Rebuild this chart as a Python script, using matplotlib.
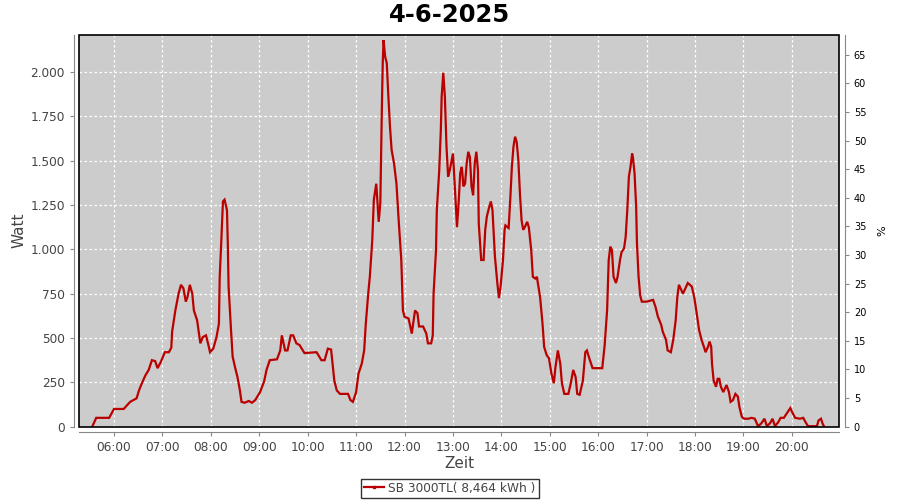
import pandas as pd
import matplotlib
matplotlib.use("Agg")
import matplotlib.pyplot as plt
import matplotlib.dates as mdates
from matplotlib.lines import Line2D
from matplotlib.patches import Rectangle
from matplotlib.ticker import FuncFormatter, MultipleLocator

# Data (time of day, power in W)
times = [
    "05:33", "05:38", "05:54", "06:00", "06:12", "06:20", "06:28", "06:31", "06:35", "06:39",
    "06:43", "06:47", "06:51", "06:54", "06:58", "07:03", "07:08", "07:11", "07:12", "07:16",
    "07:20", "07:23", "07:26", "07:29", "07:31", "07:34", "07:37", "07:39", "07:43", "07:47",
    "07:50", "07:54", "07:57", "07:59", "08:03", "08:07", "08:10", "08:11", "08:13", "08:15",
    "08:17", "08:20", "08:21", "08:22", "08:25", "08:27", "08:30", "08:33", "08:36", "08:38",
    "08:42", "08:47", "08:51", "08:55", "09:01", "09:06", "09:09", "09:13", "09:22", "09:26",
    "09:28", "09:32", "09:35", "09:39", "09:42", "09:46", "09:50", "09:56", "10:11", "10:17",
    "10:21", "10:25", "10:29", "10:33", "10:36", "10:40", "10:50", "10:53", "10:56", "11:00",
    "11:03", "11:07", "11:10", "11:12", "11:15", "11:17", "11:20", "11:22", "11:25", "11:27",
    "11:28", "11:30", "11:32", "11:33", "11:34", "11:36", "11:38", "11:40", "11:42", "11:44",
    "11:47", "11:50", "11:53", "11:56", "11:58", "12:00", "12:05", "12:09", "12:13", "12:16",
    "12:18", "12:23", "12:27", "12:29", "12:33", "12:35", "12:36", "12:39", "12:40", "12:43",
    "12:45", "12:46", "12:48", "12:50", "12:52", "12:54", "12:56", "13:00", "13:02", "13:05",
    "13:07", "13:09", "13:11", "13:13", "13:15", "13:17", "13:19", "13:21", "13:23", "13:25",
    "13:27", "13:29", "13:31", "13:32", "13:35", "13:38", "13:40", "13:42", "13:45", "13:47",
    "13:49", "13:52", "13:55", "13:57", "13:59", "14:02", "14:04", "14:05", "14:09", "14:11",
    "14:13", "14:15", "14:17", "14:19", "14:21", "14:23", "14:25", "14:27", "14:29", "14:32",
    "14:34", "14:37", "14:39", "14:42", "14:44", "14:48", "14:51", "14:53", "14:56", "14:59",
    "15:02", "15:05", "15:07", "15:10", "15:13", "15:15", "15:18", "15:23", "15:26", "15:29",
    "15:32", "15:34", "15:37", "15:41", "15:44", "15:46", "15:49", "15:53", "16:05", "16:08",
    "16:11", "16:13", "16:15", "16:17", "16:19", "16:22", "16:24", "16:27", "16:29", "16:32",
    "16:34", "16:36", "16:38", "16:40", "16:42", "16:43", "16:45", "16:47", "16:48", "16:50",
    "16:52", "16:54", "17:00", "17:08", "17:11", "17:14", "17:18", "17:20", "17:24", "17:26",
    "17:30", "17:33", "17:36", "17:38", "17:40", "17:42", "17:45", "17:49", "17:51", "17:56",
    "17:59", "18:02", "18:05", "18:08", "18:11", "18:13", "18:16", "18:18", "18:20", "18:21",
    "18:23", "18:26", "18:28", "18:30", "18:32", "18:35", "18:37", "18:39", "18:42", "18:44",
    "18:47", "18:50", "18:53", "18:55", "18:58", "19:01", "19:06", "19:10", "19:14", "19:18",
    "19:22", "19:26", "19:29", "19:33", "19:36", "19:39", "19:43", "19:46", "19:50", "19:55",
    "19:58", "20:00", "20:04", "20:10", "20:14", "20:17", "20:20", "20:31", "20:33", "20:36",
    "20:38", "20:40",
]
watt = [
    0, 50, 50, 100, 100, 140, 160, 205, 250, 290,
    320, 375, 370, 330, 365, 420, 420, 445, 535, 655,
    750, 800, 780, 705, 730, 800, 750, 655, 600, 470,
    505, 515, 460, 420, 440, 505, 580, 845, 1050, 1270,
    1280, 1220, 1035, 790, 545, 395, 335, 280, 205, 140,
    135, 145, 135, 150, 195, 255, 320, 375, 380, 430,
    515, 430, 430, 515, 515, 470, 460, 415, 420, 375,
    375, 440, 435, 260, 205, 185, 185, 150, 140, 195,
    300, 355, 430, 580, 750, 845, 1050, 1280, 1370, 1220,
    1155, 1260, 1815, 2050, 2180, 2085, 2050, 1860, 1690, 1560,
    1485, 1370, 1145, 940, 655, 620, 610, 525, 655, 640,
    565, 565, 525, 470, 470, 515, 750, 995, 1220, 1445,
    1675, 1860, 1995, 1860, 1580, 1410, 1445, 1540, 1380, 1125,
    1260, 1430, 1465, 1355, 1370, 1485, 1550, 1520, 1355, 1305,
    1485, 1550, 1445, 1145, 940, 940, 1110, 1185, 1240, 1270,
    1220, 960, 810, 725, 790, 940, 1110, 1135, 1120, 1280,
    1465, 1580, 1635, 1605, 1505, 1315, 1165, 1110, 1125, 1155,
    1125, 995, 845, 835, 845, 730, 580, 450, 405, 385,
    300, 245, 335, 430, 355, 245, 185, 185, 245, 320,
    280, 185, 180, 260, 420, 430, 385, 330, 330, 460,
    655, 940, 1015, 995, 845, 810, 845, 940, 985, 1005,
    1070, 1220, 1410, 1465, 1540, 1520, 1430, 1240, 1035, 845,
    740, 705, 705, 715, 675, 620, 575, 535, 490, 430,
    420, 490, 600, 730, 800, 780, 750, 790, 810, 790,
    730, 640, 545, 490, 450, 420, 450, 480, 450, 355,
    260, 225, 270, 270, 225, 195, 215, 235, 195, 140,
    150, 185, 170, 110, 55, 45, 45, 50, 45, 3,
    18, 45, 3, 20, 45, 3, 25, 50, 50, 85,
    105, 85, 50, 45, 50, 25, 3, 3, 35, 45,
    18, 0,
]
day = "2025-06-04"
title = "4-6-2025"
series_label = "SB 3000TL( 8,464 kWh )"

t = pd.to_datetime([f"{day} {s}" for s in times])

line_color = "#bb0000"
axis_grey = "#888888"
text_grey = "#444444"

fig = plt.figure(figsize=(9, 5), dpi=100)
ax = fig.add_axes([0.0881, 0.1466, 0.8444, 0.7840])
ax.set_facecolor("#cccccc")

ax.plot(t, watt, color=line_color, linewidth=1.6, solid_joinstyle="miter")

ax.set_xlim(pd.Timestamp(f"{day} 05:17"), pd.Timestamp(f"{day} 20:58:40"))
ax.set_ylim(0, 2210)

ax.xaxis.set_major_locator(mdates.HourLocator())
ax.xaxis.set_major_formatter(mdates.DateFormatter("%H:%M"))
ax.yaxis.set_major_locator(MultipleLocator(250))
ax.yaxis.set_major_formatter(FuncFormatter(lambda v, p: f"{int(v):,}".replace(",", ".")))

ax.grid(True, color="white", linestyle=(0, (2, 2)), linewidth=0.9)
ax.set_axisbelow(True)

# offset grey axis lines, like the original
for side in ["left", "bottom"]:
    ax.spines[side].set_position(("outward", 4))
    ax.spines[side].set_color(axis_grey)
for side in ["top", "right"]:
    ax.spines[side].set_visible(False)
ax.tick_params(axis="both", colors=axis_grey, labelcolor=text_grey, labelsize=8.7,
               length=3, width=0.8, direction="out")

# black frame around the plot area
ax.add_patch(Rectangle((0, 0), 1, 1, transform=ax.transAxes, fill=False,
                       edgecolor="black", linewidth=1.2, clip_on=False, zorder=5))

ax.set_xlabel("Zeit", fontsize=11, color=text_grey, labelpad=1)
ax.set_ylabel("Watt", fontsize=11, color=text_grey, labelpad=3)

# right percent axis
ax2 = ax.twinx()
ax2.set_ylim(0, 68.5)
ax2.yaxis.set_major_locator(MultipleLocator(5))
for side in ["left", "bottom", "top"]:
    ax2.spines[side].set_visible(False)
ax2.spines["right"].set_position(("outward", 4))
ax2.spines["right"].set_color(axis_grey)
ax2.tick_params(axis="y", colors=axis_grey, labelcolor="black", labelsize=7,
                length=3, width=0.8)
ax2.set_ylabel("%", fontsize=8, color="black", labelpad=8)

fig.suptitle(title, fontsize=17.5, fontweight="bold", y=0.995)

handle = Line2D([], [], color=line_color, linewidth=1.6, marker="s", markersize=1.5)
leg = fig.legend([handle], [series_label], loc="lower center",
                 bbox_to_anchor=(0.5, 0.0), fontsize=8.7, frameon=True,
                 fancybox=False, edgecolor="black", handlelength=1.6,
                 handletextpad=0.4, borderpad=0.25, borderaxespad=0.2)
leg.get_frame().set_linewidth(1.0)
for txt in leg.get_texts():
    txt.set_color(text_grey)

fig.savefig("out.png", dpi=100)
